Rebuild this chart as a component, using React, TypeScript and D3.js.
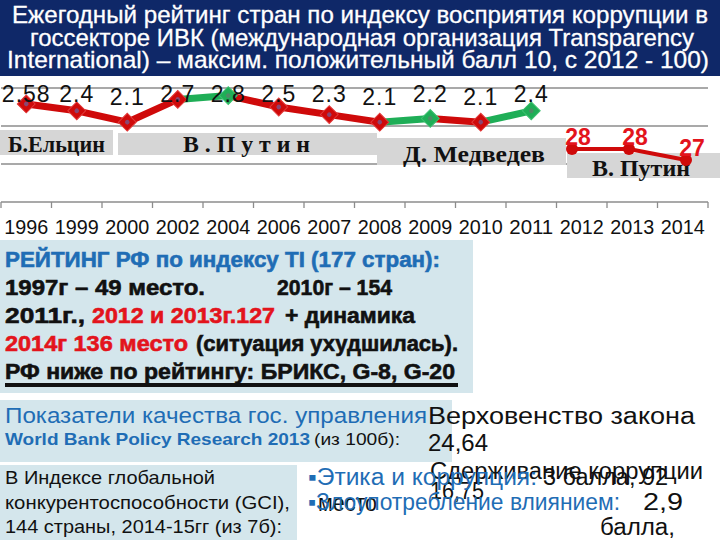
import React, { useEffect } from "react";
import * as d3 from "d3";

// ---------- data ----------
const years = ["1996","1999","2000","2002","2004","2006","2007","2008","2009","2010","2011","2012","2013","2014"];
const cpiValues = [2.58, 2.4, 2.1, 2.7, 2.8, 2.5, 2.3, 2.1, 2.2, 2.1, 2.4];
const cpiLabels = ["2.58","2.4","2.1","2.7","2.8","2.5","2.3","2.1","2.2","2.1","2.4"];
const markerColorKeys = ["red","red","red","red","green","red","red","red","green","red","green"];
const newScaleYears = [2012, 2013, 2014];
const newScaleValues = [28, 28, 27];
const gridValues = [1, 2, 3];
const periodLabels = ["Б.Ельцин", "В . П у т и н", "Д. Медведев", "В. Путин"];
const titleLines = [
  "Ежегодный рейтинг стран по индексу восприятия коррупции  в",
  "госсекторе ИВК (международная организация Transparency",
  "International) – максим. положительный балл 10, с 2012 - 100)",
];

// ---------- styles / layout ----------
const COLORS: Record<string, string> = { red: "#cf0a0a", green: "#1fae57" };
const NAVY = "#0f2868";
const BOX = "#d4e6ec";
const BLUE = "#1f6db5";
const RED_TXT = "#e3141c";
const SANS = "'Liberation Sans', Arial, sans-serif";
const NARROW = "'Liberation Sans Narrow', 'Arial Narrow', 'Liberation Sans', sans-serif";
const SERIF = "'Liberation Serif', 'Times New Roman', serif";

const periodBoxes = [
  { x: 0, y: 130, w: 113, h: 25, tx: 8, ty: 152, tl: 97, fs: 23 },
  { x: 118, y: 133, w: 259, h: 22, tx: 183, ty: 152, tl: 127, fs: 24 },
  { x: 377, y: 138, w: 189, h: 27, tx: 403, ty: 162, tl: 142, fs: 24 },
  { x: 567, y: 153, w: 153, h: 25, tx: 592, ty: 176, tl: 98, fs: 24 },
];

export default function App() {
  useEffect(() => {
    document.body.style.margin = "0";
  }, []);

  const x = d3.scaleBand<string>().domain(years).range([1, 708]).paddingInner(0).paddingOuter(0);
  const y = d3.scaleLinear().domain([0, 3]).range([202, 88]);
  const cx = (yr: string) => (x(yr) as number) + x.bandwidth() / 2;

  const pts = cpiValues.map((v, i) => ({ x: cx(years[i]), y: y(v), v, c: COLORS[markerColorKeys[i]], label: cpiLabels[i] }));
  const line = d3.line<{ x: number; y: number }>().x((d) => d.x).y((d) => d.y);

  const x2 = d3.scaleLinear().domain([2012, 2014]).range([572, 686]);
  const y2 = d3.scaleLinear().domain([27, 28]).range([160, 149]);
  const pts2 = newScaleYears.map((yr, i) => ({ x: x2(yr), y: y2(newScaleValues[i]), v: newScaleValues[i] }));

  const diamond = d3.symbol().type(d3.symbolSquare).size(160)() as string;

  const boundaries = years.map((yr) => x(yr) as number).concat([(x(years[years.length - 1]) as number) + x.bandwidth()]);

  return (
    <svg width={720} height={540} style={{ position: "absolute", left: 0, top: 0, background: "#fff" }}>
      <rect x={0} y={0} width={720} height={540} fill="#fff" />
      {/* title band */}
      <rect x={0} y={0} width={720} height={76} fill={NAVY} />
      {titleLines.map((t, i) => (
        <text key={i} x={[12, 30, 7][i]} y={[23, 46, 68][i]} fill="#fff" stroke="#fff" strokeWidth={0.3}
          fontFamily={NARROW} fontSize={24}
          textLength={[696, 664, 702][i]} lengthAdjust="spacingAndGlyphs">{t}</text>
      ))}

      {/* gridlines */}
      {gridValues.map((g) => (
        <line key={g} x1={1} x2={708} y1={y(g)} y2={y(g)} stroke="#8c8c8c" strokeWidth={1.3} />
      ))}
      {/* axis */}
      <line x1={1} x2={708} y1={y(0)} y2={y(0)} stroke="#8c8c8c" strokeWidth={1.3} />
      {boundaries.map((b, i) => (
        <line key={i} x1={b} x2={b} y1={y(0)} y2={y(0) + 6} stroke="#8c8c8c" strokeWidth={1.3} />
      ))}
      {years.map((yr) => (
        <text key={yr} x={cx(yr)} y={234} textAnchor="middle" fontFamily={SANS} fontSize={20} fill="#111"
          textLength={44} lengthAdjust="spacingAndGlyphs">{yr}</text>
      ))}

      {/* period boxes */}
      {periodBoxes.map((b, i) => (
        <rect key={i} x={b.x} y={b.y} width={b.w} height={b.h} fill="#d6d6d6" />
      ))}
      {periodBoxes.map((b, i) => (
        <text key={i} x={b.tx} y={b.ty} fontFamily={SERIF} fontWeight="bold" fontSize={b.fs} fill="#111"
          textLength={b.tl} lengthAdjust="spacingAndGlyphs">{periodLabels[i]}</text>
      ))}

      {/* main line */}
      {pts.slice(1).map((p, i) => (
        <path key={i} d={line([pts[i], p]) as string} stroke={p.c} strokeWidth={7} fill="none" strokeLinecap="round" />
      ))}
      {pts.map((p, i) => (
        <g key={i} transform={`translate(${p.x},${p.y}) rotate(45)`}>
          <path d={diamond} fill={p.c} stroke={p.c === COLORS.red ? "#e23a3a" : "#3cc070"} strokeWidth={1} />
          <circle r={2.3} fill={p.c === COLORS.red ? "#8a4672" : "#4f8a66"} />
        </g>
      ))}
      {pts.map((p, i) => (
        <text key={i} x={p.x} y={Math.max(102, p.y - 17)} textAnchor="middle" fontFamily={SANS} fontSize={23} fill="#111"
          letterSpacing={1}>{p.label}</text>
      ))}

      {/* new-scale overlay */}
      <path d={line(pts2) as string} stroke={COLORS.red} strokeWidth={4} fill="none" />
      {pts2.map((p, i) => (
        <circle key={i} cx={p.x} cy={p.y} r={6} fill={COLORS.red} />
      ))}
      {pts2.map((p, i) => (
        <text key={i} x={p.x + 6} y={p.y - 4} textAnchor="middle" fontFamily={SANS} fontWeight="bold" fontSize={23}
          fill={RED_TXT}>{p.v}</text>
      ))}

      {/* rating box */}
      <rect x={0} y={240} width={473} height={153} fill={BOX} />
      <g fontFamily={SANS} fontWeight="bold" fontSize={22} stroke="currentColor" strokeWidth={0.6}>
        <text x={5} y={267} fill={BLUE} color={BLUE} textLength={435} lengthAdjust="spacingAndGlyphs">РЕЙТИНГ РФ по индексу TI (177 стран):</text>
        <text x={5} y={295} fill="#111" color="#111" textLength={200} lengthAdjust="spacingAndGlyphs">1997г – 49 место.</text>
        <text x={277} y={295} fill="#111" color="#111" textLength={115} lengthAdjust="spacingAndGlyphs">2010г – 154</text>
        <text x={5} y={323} fill="#111" color="#111" textLength={80} lengthAdjust="spacingAndGlyphs">2011г.,</text>
        <text x={92} y={323} fill={RED_TXT} color={RED_TXT} textLength={183} lengthAdjust="spacingAndGlyphs">2012 и 2013г.127</text>
        <text x={285} y={323} fill="#111" color="#111" textLength={130} lengthAdjust="spacingAndGlyphs">+ динамика</text>
        <text x={5} y={351} fill={RED_TXT} color={RED_TXT} textLength={183} lengthAdjust="spacingAndGlyphs">2014г 136 место</text>
        <text x={196} y={351} fill="#111" color="#111" textLength={262} lengthAdjust="spacingAndGlyphs">(ситуация ухудшилась).</text>
        <text x={5} y={379} fill="#111" color="#111" textLength={450} lengthAdjust="spacingAndGlyphs">РФ ниже по рейтингу: БРИКС, G-8, G-20</text>
      </g>
      <rect x={5} y={383} width={453} height={4} fill="#111" />

      {/* governance box */}
      <rect x={0} y={400} width={452} height={62} fill={BOX} />
      <text x={5} y={423} fontFamily={SANS} fontSize={22} fill={BLUE} textLength={422} lengthAdjust="spacingAndGlyphs">Показатели качества гос. управления</text>
      <text x={5} y={445} fontFamily={SANS} fontWeight="bold" fontSize={17} fill={BLUE} textLength={305} lengthAdjust="spacingAndGlyphs">World Bank Policy Research 2013</text>
      <text x={314} y={445} fontFamily={SANS} fontSize={17} fill="#111" textLength={86} lengthAdjust="spacingAndGlyphs">(из 100б):</text>
      <text x={428} y={424} fontFamily={SANS} fontSize={23} fill="#111" textLength={267} lengthAdjust="spacingAndGlyphs">Верховенство закона</text>
      <text x={428} y={451} fontFamily={SANS} fontSize={23} fill="#111" textLength={60} lengthAdjust="spacingAndGlyphs">24,64</text>

      {/* GCI box */}
      <rect x={0} y={465} width={297} height={75} fill={BOX} />
      <text x={5} y={484} fontFamily={SANS} fontSize={19} fill="#111" textLength={210} lengthAdjust="spacingAndGlyphs">В Индексе глобальной</text>
      <text x={5} y={509} fontFamily={SANS} fontSize={19} fill="#111" textLength={285} lengthAdjust="spacingAndGlyphs">конкурентоспособности (GCI),</text>
      <text x={5} y={533} fontFamily={SANS} fontSize={19} fill="#111" textLength={277} lengthAdjust="spacingAndGlyphs">144 страны, 2014-15гг (из 7б):</text>

      <text x={430} y={479} fontFamily={SANS} fontSize={23} fill="#111" textLength={273} lengthAdjust="spacingAndGlyphs">Сдерживание коррупции</text>
      <text x={430} y={499} fontFamily={SANS} fontSize={23} fill="#111" textLength={54} lengthAdjust="spacingAndGlyphs">16,75</text>
      <text x={308} y={485} fontFamily={SANS} fontSize={23} fill={BLUE} textLength={229} lengthAdjust="spacingAndGlyphs">▪Этика и коррупция:</text>
      <text x={543} y={485} fontFamily={SANS} fontSize={23} fill="#111" textLength={125} lengthAdjust="spacingAndGlyphs">3 балла, 92</text>
      <text x={318} y={511} fontFamily={SANS} fontSize={23} fill="#111" textLength={59} lengthAdjust="spacingAndGlyphs">место</text>
      <text x={308} y={510} fontFamily={SANS} fontSize={23} fill={BLUE} textLength={312} lengthAdjust="spacingAndGlyphs">▪Злоупотребление влиянием:</text>
      <text x={643} y={510} fontFamily={SANS} fontSize={23} fill="#111" textLength={40} lengthAdjust="spacingAndGlyphs">2,9</text>
      <text x={600} y={535} fontFamily={SANS} fontSize={23} fill="#111" textLength={75} lengthAdjust="spacingAndGlyphs">балла,</text>
    </svg>
  );
}
